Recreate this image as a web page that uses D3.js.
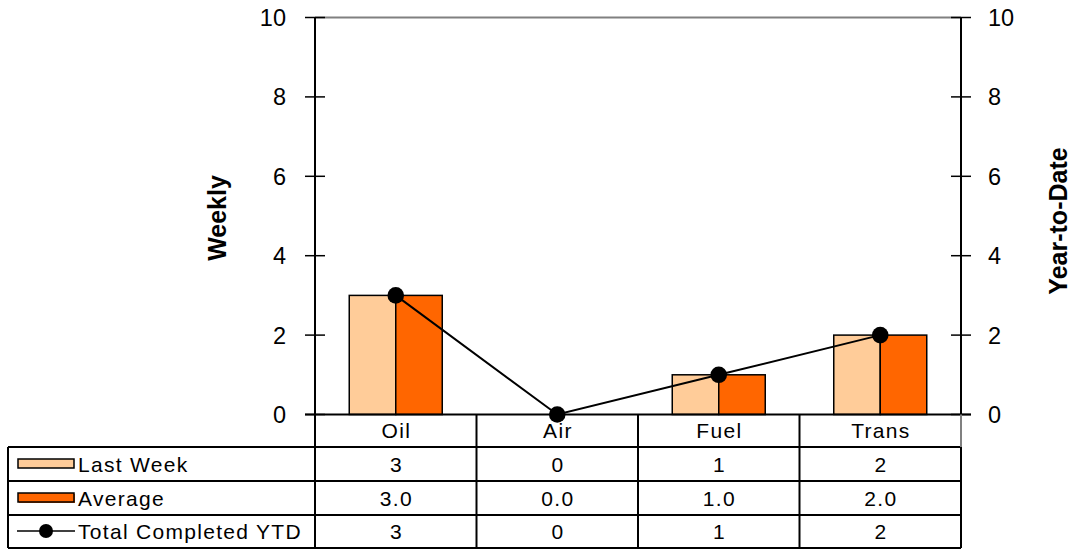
<!DOCTYPE html>
<html><head><meta charset="utf-8">
<script src="https://cdn.jsdelivr.net/npm/d3@7"></script>
<style>body{margin:0;background:#fff}svg{display:block;font-family:"Liberation Sans",Arial,sans-serif}</style>
</head><body><svg id="c" width="1074" height="550"></svg>
<script>
const categories = ["Oil","Air","Fuel","Trans"];
const lastWeek = [3,0,1,2];
const average = [3.0,0.0,1.0,2.0];
const totalYTD = [3,0,1,2];
const yTicks = [0,2,4,6,8,10];
const seriesNames = ["Last Week","Average","Total Completed YTD"];
const colors = {last:"#FFCC99", avg:"#FF6600"};

const svg = d3.select("#c");
const L = 315, R = 961, T = 17.5, B = 414.5;
const x = d3.scaleBand().domain(categories).range([L,R]);
const y = d3.scaleLinear().domain([0,10]).range([B,T]);
const y2 = d3.scaleLinear().domain([0,10]).range([B,T]);

// top border
svg.append("line").attr("x1",L).attr("x2",R).attr("y1",T).attr("y2",T).attr("stroke","#808080").attr("stroke-width",2);

// bars
const bw = 46.5;
const g = svg.append("g");
categories.forEach((c,i)=>{
  const cx = x(c)+x.bandwidth()/2;
  [[lastWeek[i],colors.last,-bw],[average[i],colors.avg,0]].forEach(([v,col,off])=>{
    if(v>0) g.append("rect").attr("x",cx+off).attr("y",y(v)).attr("width",bw).attr("height",B-y(v))
      .attr("fill",col).attr("stroke","#000").attr("stroke-width",1.5);
  });
});

// axes
const gl = svg.append("g").attr("transform",`translate(${L},0)`);
gl.append("line").attr("y1",T).attr("y2",B).attr("stroke","#000").attr("stroke-width",2);
yTicks.forEach(t=>{
  gl.append("line").attr("x1",-10).attr("x2",10).attr("y1",y(t)).attr("y2",y(t)).attr("stroke","#000").attr("stroke-width",1.5);
  gl.append("text").attr("x",-29).attr("y",y(t)).attr("dy","0.36em").attr("text-anchor","end").attr("font-size",23.5).text(t);
});
const gr = svg.append("g").attr("transform",`translate(${R},0)`);
gr.append("line").attr("y1",T).attr("y2",B).attr("stroke","#000").attr("stroke-width",2);
yTicks.forEach(t=>{
  gr.append("line").attr("x1",-10).attr("x2",10).attr("y1",y2(t)).attr("y2",y2(t)).attr("stroke","#000").attr("stroke-width",1.5);
  gr.append("text").attr("x",27).attr("y",y2(t)).attr("dy","0.36em").attr("text-anchor","start").attr("font-size",23.5).text(t);
});
// baseline
svg.append("line").attr("x1",L-10).attr("x2",R+10).attr("y1",B).attr("y2",B).attr("stroke","#000").attr("stroke-width",2);

// axis titles
svg.append("text").attr("transform",`translate(226,218) rotate(-90)`).attr("text-anchor","middle")
  .attr("font-size",25).attr("font-weight","bold").text("Weekly");
svg.append("text").attr("transform",`translate(1067,221) rotate(-90)`).attr("text-anchor","middle")
  .attr("font-size",25).attr("font-weight","bold").text("Year-to-Date");

// line
const line = d3.line().x((d,i)=>x(categories[i])+x.bandwidth()/2).y(d=>y2(d));
svg.append("path").datum(totalYTD).attr("d",line).attr("fill","none").attr("stroke","#000").attr("stroke-width",2);
svg.selectAll(".dot").data(totalYTD).enter().append("circle")
  .attr("cx",(d,i)=>x(categories[i])+x.bandwidth()/2).attr("cy",d=>y2(d)).attr("r",8.3).attr("fill","#000");

// data table
const rowY = [B, 447, 481, 515, 548];
const tL = 8;
const tg = svg.append("g").attr("font-size",21).attr("letter-spacing",1.3);
const cell = (xx,yy,txt,anchor)=>tg.append("text").attr("x",anchor==="middle"?xx+0.65:xx).attr("y",yy).attr("dy","0.36em")
    .attr("text-anchor",anchor).text(txt);
categories.forEach(c=>cell(x(c)+x.bandwidth()/2,(rowY[0]+rowY[1])/2,c,"middle"));
const rows = [lastWeek.map(String), average.map(v=>v.toFixed(1)), totalYTD.map(String)];
rows.forEach((r,ri)=>{
  const yc = (rowY[ri+1]+rowY[ri+2])/2;
  r.forEach((v,i)=>cell(x(categories[i])+x.bandwidth()/2,yc,v,"middle"));
  cell(78,yc,seriesNames[ri],"start");
});
// legend keys
tg.append("rect").attr("x",18).attr("y",459).attr("width",56).attr("height",9).attr("fill",colors.last).attr("stroke","#000").attr("stroke-width",1.5);
tg.append("rect").attr("x",19).attr("y",494).attr("width",56).attr("height",9).attr("fill",colors.avg);
tg.append("rect").attr("x",18).attr("y",493).attr("width",56).attr("height",9).attr("fill",colors.avg).attr("stroke","#000").attr("stroke-width",1.5);
tg.append("line").attr("x1",17).attr("x2",75).attr("y1",531).attr("y2",531).attr("stroke","#000").attr("stroke-width",1.5);
tg.append("circle").attr("cx",46).attr("cy",531).attr("r",7).attr("fill","#000");

// grid lines
const ls = (x1,y1,x2,y2,c="#000")=>tg.append("line").attr("x1",x1).attr("y1",y1).attr("x2",x2).attr("y2",y2).attr("stroke",c).attr("stroke-width",2);
[1,2,3,4].forEach(k=>ls(tL,rowY[k],R,rowY[k]));
ls(tL,rowY[1],tL,rowY[4]);
categories.forEach(c=>ls(x(c),rowY[0],x(c),rowY[4]));
ls(R,rowY[0],R,rowY[1],"#808080");
ls(R,rowY[1],R,rowY[4]);
</script></body></html>
